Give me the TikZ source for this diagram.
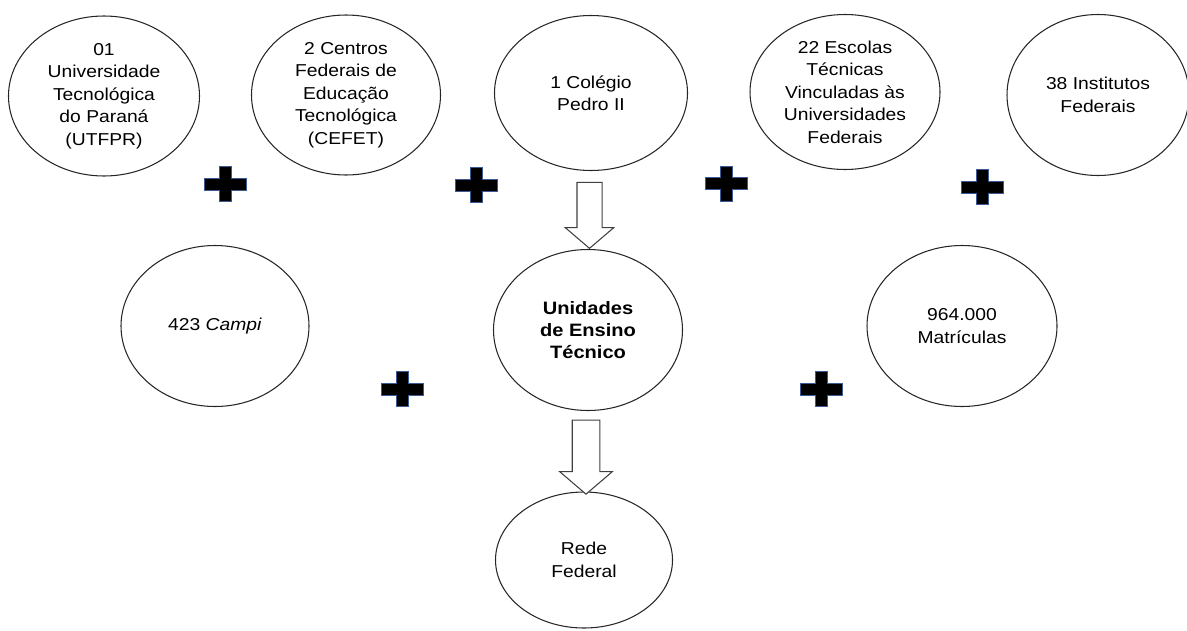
\documentclass[tikz,border=0pt]{standalone}
\usepackage{fontspec}
\setmainfont[FakeStretch=1.12]{Liberation Sans}
\usepackage{tikz}
\usetikzlibrary{shapes, arrows, positioning, calc}

\definecolor{plusblue}{HTML}{3A5A96}

\newcommand{\plusmark}[1]{%
	\filldraw[draw=plusblue, fill=black, line width=0.5pt, shift={(#1)}] (-0.42,-0.12) -- (-0.12,-0.12) -- (-0.12,-0.35) -- (0.12,-0.35) -- (0.12,-0.12) -- (0.42,-0.12) -- (0.42,0.12) -- (0.12,0.12) -- (0.12,0.35) -- (-0.12,0.35) -- (-0.12,0.12) -- (-0.42,0.12) -- cycle;}

\begin{document}
\begin{tikzpicture}[
		bubble/.style={ellipse,draw=black!85,line width=0.6pt,inner sep=0pt,align=center,font=\fontsize{9.8}{12.8}\selectfont},
		downarrow/.style={single arrow,draw=black!75,line width=0.6pt,fill=white,inner sep=0.24cm,single arrow head extend=0.235cm,single arrow tip angle=99,shape border rotate=270}
	]
		%\draw[gray,step=1] (0,0) grid (24,13);
		\useasboundingbox (0,0) rectangle (23.74,12.6);

		\node[bubble,minimum width=3.82cm,minimum height=3.2cm] (A) at (2.08,10.68) {01\\Universidade\\Tecnológica\\do Paraná\\(UTFPR)};
		\node[bubble,minimum width=3.78cm,minimum height=3.2cm] (B) at (6.92,10.7) {2 Centros\\Federais de\\Educação\\Tecnológica\\(CEFET)};
		\node[bubble,minimum width=3.86cm,minimum height=3.1cm] (C) at (11.82,10.74) {1 Colégio\\Pedro II};
		\node[bubble,minimum width=3.8cm,minimum height=3.1cm] (D) at (16.9,10.76) {22 Escolas\\Técnicas\\Vinculadas às\\Universidades\\Federais};
		\node[bubble,minimum width=3.64cm,minimum height=3.22cm] (E) at (21.96,10.7) {38 Institutos\\Federais};

		\node[bubble,minimum width=3.76cm,minimum height=3.22cm] (F) at (4.3,6.08) {423 \textit{Campi}};
		\node[bubble,minimum width=3.78cm,minimum height=3.22cm,font=\fontsize{10.2}{12.6}\selectfont\bfseries] (G) at (11.76,6.0) {Unidades\\de Ensino\\Técnico};
		\node[bubble,minimum width=3.8cm,minimum height=3.22cm] (H) at (19.24,6.08) {964.000\\Matrículas};
		\node[bubble,minimum width=3.54cm,minimum height=2.72cm] (I) at (11.68,1.4) {Rede\\Federal};

		\node[downarrow,minimum height=1.32cm] (CG) at ($(C.south)!0.5!(G.north)$) {};
		\node[downarrow,minimum height=1.48cm,inner sep=0.265cm,single arrow head extend=0.25cm] (GI) at ($(G.south)!0.5!(I.north)$) {};

		\plusmark{4.5,8.92}
		\plusmark{9.52,8.9}
		\plusmark{14.53,8.93}
		\plusmark{19.64,8.86}
		\plusmark{8.04,4.82}
		\plusmark{16.43,4.82}

	\end{tikzpicture}
\end{document}
